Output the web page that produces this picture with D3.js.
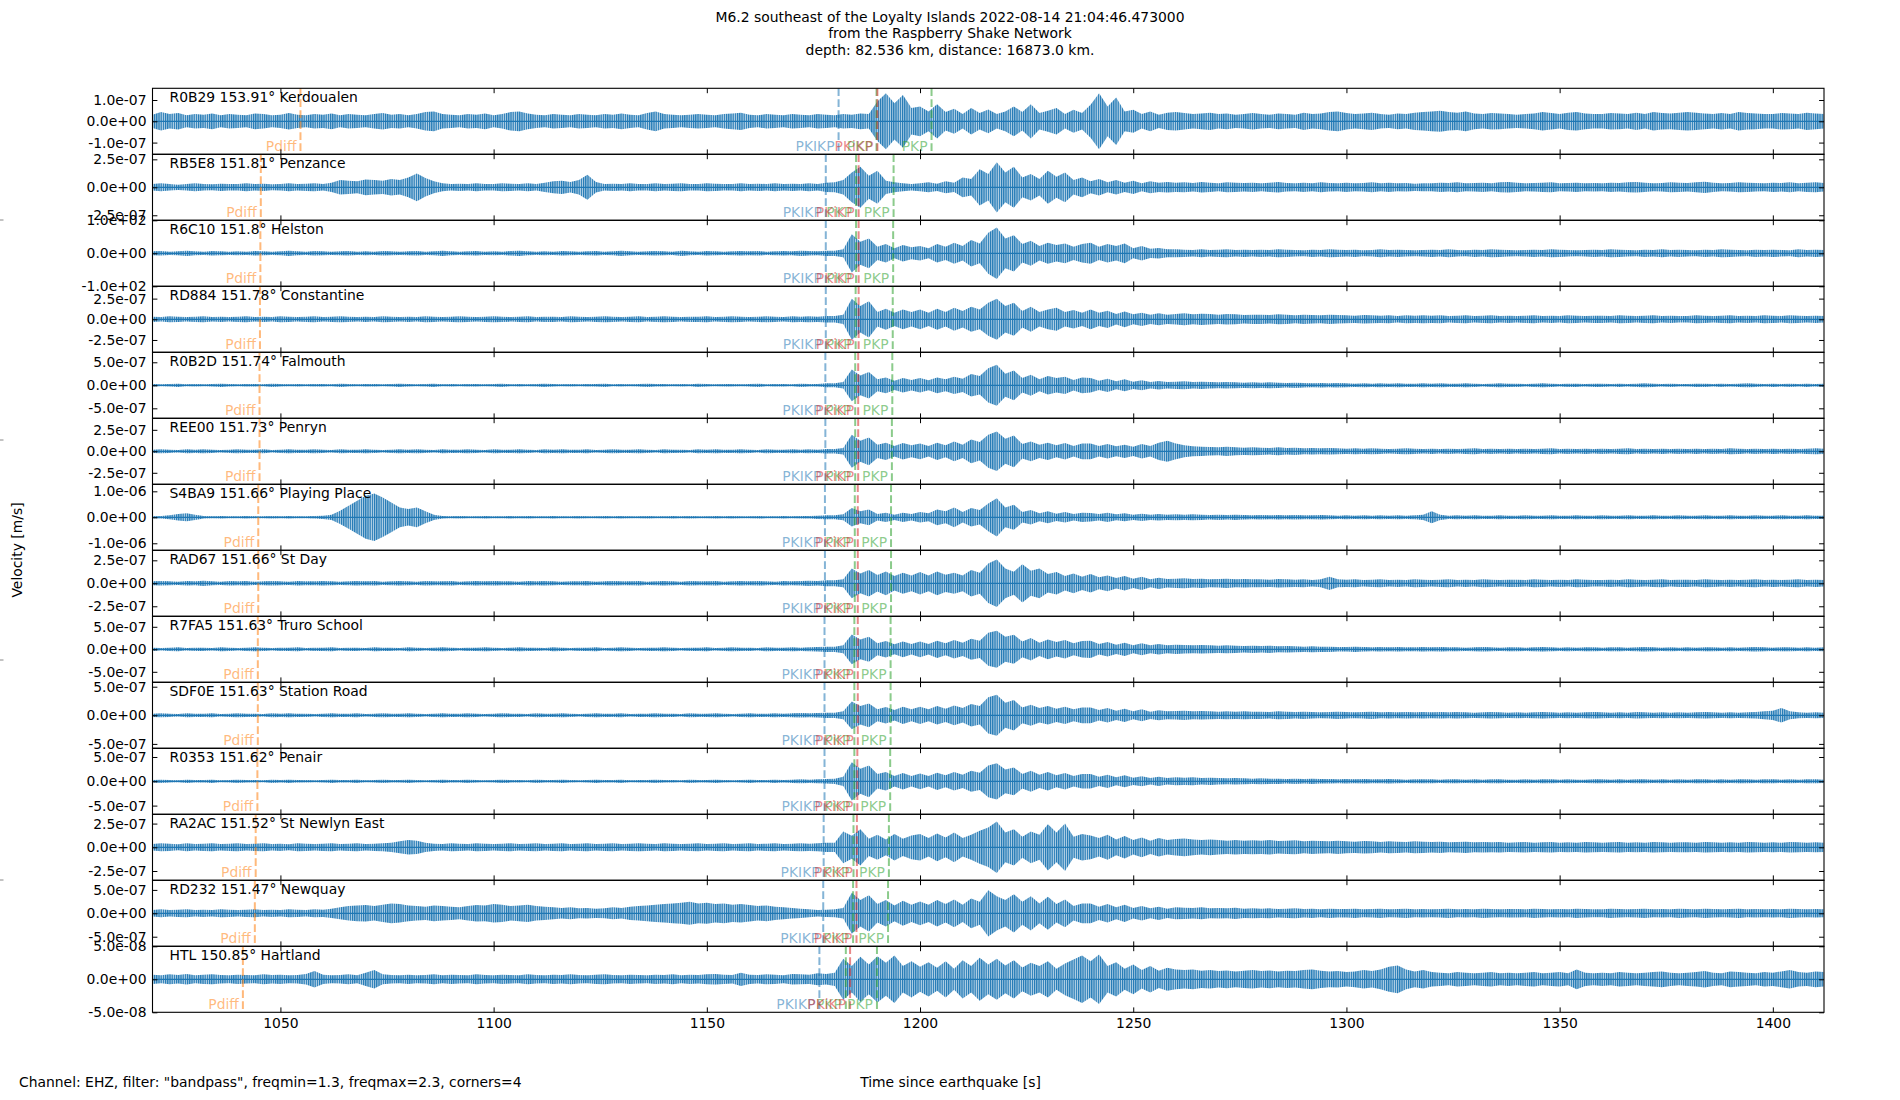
<!DOCTYPE html>
<html>
<head>
<meta charset="utf-8">
<title>Raspberry Shake section</title>
<script src="https://cdn.jsdelivr.net/npm/d3@7"></script>
<style>
body{margin:0;background:#fff;}
svg text{font-family:"DejaVu Sans",sans-serif;font-size:13.9px;fill:#000;}
</style>
</head>
<body>
<div id="chart"></div>
<script>
// station list, top to bottom
var stations  = ["R0B29","RB5E8","R6C10","RD884","R0B2D","REE00","S4BA9","RAD67","R7FA5","SDF0E","R0353","RA2AC","RD232","HTL"];
var places    = ["Kerdoualen","Penzance","Helston","Constantine","Falmouth","Penryn","Playing Place","St Day","Truro School","Station Road","Penair","St Newlyn East","Newquay","Hartland"];
var distances = ["153.91","151.81","151.8","151.78","151.74","151.73","151.66","151.66","151.63","151.63","151.62","151.52","151.47","150.85"];
// y limits (symmetric) and the +/- tick of each panel
var ylims  = [1.55e-7, 2.95e-7, 1.0e2, 3.99e-7, 7.17e-7, 3.84e-7, 1.27e-6, 3.59e-7, 7.33e-7, 5.77e-7, 6.79e-7, 3.48e-7, 7.05e-7, 5.0e-8];
var yticks = [1e-7, 2.5e-7, 1e2, 2.5e-7, 5e-7, 2.5e-7, 1e-6, 2.5e-7, 5e-7, 5e-7, 5e-7, 2.5e-7, 5e-7, 5e-8];
var xticks = [1050,1100,1150,1200,1250,1300,1350,1400];

// trace envelopes, percent of ylim, one value every 2 s from 1020 s
var t0 = 1020, dt = 2;
var env_R0B29 = [20,28,22,25,18,22,20,24,18,22, 20,18,24,22,18,20,25,20,18,22, 20,24,18,22,20,18,22,25,20,22, 18,22,28,30,22,20,18,22,20,24,
  18,22,28,30,24,20,18,22,20,18, 22,20,18,22,20,24,20,18,25,30, 22,20,18,20,22,20,18,22,24,26, 20,18,22,20,18,22,20,18,22,20,
  18,22,20,24,22,60,85,55,80,40, 45,30,52,28,38,22,40,25,36,22, 30,45,28,52,25,32,40,22,35,25, 50,85,45,72,30,35,22,30,20,26,
  28,25,22,24,26,22,24,20,22,25, 22,20,24,22,20,26,22,24,28,30, 25,22,24,26,22,20,24,22,26,28, 30,32,28,26,30,24,22,25,24,22,
  20,22,24,28,25,22,26,28,24,22, 22,25,24,22,26,22,28,25,24,26, 28,26,24,22,25,22,28,25,24,22, 22,25,24,22,26,24,22];
var env_RB5E8 = [10,12,10,8,10,12,10,9,11,10, 10,12,10,11,9,10,12,10,11,12, 10,14,22,20,18,24,22,20,25,22, 30,42,28,18,12,10,11,10,12,10,
  10,12,11,10,12,10,14,18,20,16, 22,38,16,10,11,10,12,10,10,12, 10,11,12,10,10,12,11,10,10,12, 10,11,10,12,10,11,10,12,10,14,
  15,22,45,62,35,50,20,15,12,10, 12,15,11,18,14,30,25,55,40,76, 45,62,30,40,25,50,32,45,22,30, 18,25,15,22,14,20,12,18,14,16,
  14,15,13,16,14,12,15,14,13,14, 12,14,16,13,12,14,12,15,13,12, 14,12,13,15,12,14,12,13,11,12, 12,14,13,15,12,13,14,12,15,16,
  14,12,13,14,15,12,13,14,12,13, 12,14,13,15,16,14,12,13,15,14, 13,15,17,14,12,13,15,14,13,12, 14,13,15,12,14,15,13];
var env_R6C10 = [6,7,5,6,8,6,5,7,6,5, 6,5,7,6,5,6,8,6,5,7, 6,5,6,7,5,6,5,7,6,5, 6,7,5,6,8,6,5,6,7,5,
  6,5,7,8,6,5,6,5,7,6, 5,6,7,5,6,8,6,5,6,7, 6,5,8,6,5,7,6,5,6,7, 6,7,5,6,7,6,8,7,6,8,
  8,12,58,35,45,20,28,15,25,18, 22,15,28,20,32,22,40,30,62,78, 45,55,28,38,22,32,25,30,20,28, 32,20,28,22,30,15,22,14,16,12,
  12,11,10,12,10,11,12,10,11,10, 11,10,12,11,10,9,11,10,12,11, 10,11,9,10,12,10,11,10,9,10, 11,10,12,10,9,11,10,12,11,10,
  9,10,11,10,12,11,10,9,10,11, 10,12,11,10,9,11,10,12,10,11, 10,9,11,10,12,11,10,9,11,10, 11,10,9,12,10,11,10];
var env_RD884 = [8,7,9,8,7,8,9,7,8,7, 8,9,7,8,7,9,8,7,8,9, 7,8,9,8,7,8,7,9,8,7, 8,7,9,8,7,8,9,8,7,8,
  9,8,7,8,9,7,8,8,7,9, 8,7,8,9,8,7,8,9,7,8, 9,8,7,8,8,9,7,8,9,8, 7,8,9,8,7,9,8,9,8,10,
  10,14,62,40,55,22,32,20,30,22, 30,20,32,22,35,25,38,30,50,62, 40,50,25,38,22,30,35,22,28,20, 30,20,26,16,24,15,20,14,18,14,
  16,18,15,17,16,14,16,15,13,14, 14,13,15,14,12,14,13,12,14,13, 12,11,13,12,11,12,10,12,11,12, 11,12,10,11,12,10,11,12,10,11,
  10,11,12,10,11,10,12,11,10,11, 11,10,12,11,10,11,12,10,11,10, 10,12,11,10,11,12,10,11,10,12, 11,10,12,11,10,11,10];
var env_R0B2D = [4,3,4,5,3,4,3,4,5,4, 3,4,4,3,5,4,3,4,3,4, 4,3,5,4,3,4,4,3,4,5, 4,3,4,5,3,4,3,4,4,3,
  4,5,3,4,3,4,5,4,3,4, 3,4,4,5,3,4,3,4,5,4, 4,3,4,3,5,4,3,4,4,3, 4,5,3,4,4,3,5,4,4,6,
  6,10,48,30,40,18,24,14,22,16, 22,15,24,18,26,20,34,28,52,62, 35,45,22,32,18,28,22,26,16,24, 22,14,20,12,18,11,15,10,13,10,
  11,12,10,11,10,9,10,9,8,9, 8,9,8,7,8,7,6,7,6,7, 6,5,6,5,6,5,6,5,5,6, 5,6,5,5,6,5,4,5,6,5,
  5,4,5,6,5,4,5,5,4,5, 5,4,5,4,5,6,5,4,5,4, 4,5,5,4,5,4,5,6,5,4, 5,4,5,4,5,4,5];
var env_REE00 = [5,6,5,4,6,5,6,5,4,5, 6,5,5,6,4,5,6,5,5,6, 5,4,6,5,5,6,5,4,5,6, 5,6,5,4,6,5,5,6,5,4,
  6,5,5,6,5,4,6,5,6,5, 5,6,4,5,6,5,5,6,5,4, 6,5,5,4,6,5,6,5,5,6, 5,4,6,5,5,6,5,6,5,7,
  7,10,50,32,42,20,26,16,25,18, 24,16,26,18,30,20,36,28,50,60, 38,48,22,30,20,26,18,25,16,24, 24,16,22,15,20,14,22,16,26,32,
  24,18,15,14,13,12,14,12,11,12, 11,10,12,10,11,9,10,9,10,9, 8,9,8,9,8,7,8,9,8,7, 8,7,8,7,8,9,7,8,7,8,
  7,8,7,8,9,7,8,7,8,7, 8,7,8,9,7,8,7,8,7,8, 7,8,7,8,7,9,8,7,8,7, 8,7,8,7,8,9,8];
var env_S4BA9 = [3,4,6,10,12,8,4,3,4,3, 3,4,3,3,4,3,4,3,3,4, 5,8,20,35,50,65,72,60,45,30, 25,30,18,8,4,3,4,3,3,4,
  3,3,4,3,4,3,3,4,3,3, 4,3,3,4,3,4,3,3,4,3, 3,4,3,4,3,3,4,3,4,3, 3,4,3,3,4,3,4,4,5,6,
  6,9,28,18,24,10,14,8,14,10, 16,12,24,18,30,16,28,22,42,58, 30,38,16,22,12,18,11,16,10,14, 13,10,14,9,12,8,11,8,10,8,
  9,8,9,8,7,8,7,8,7,6, 7,6,7,6,7,6,6,7,6,5, 6,5,6,5,6,5,6,5,6,8, 18,8,5,6,5,6,5,5,6,5,
  5,6,5,5,6,5,5,6,5,5, 6,5,5,6,5,5,6,5,5,6, 5,5,6,5,5,6,5,5,6,5, 5,6,5,5,6,5,5];
var env_RAD67 = [6,7,6,5,7,6,8,6,5,7, 6,7,5,6,7,6,5,7,6,6, 7,6,5,6,7,6,7,5,6,7, 6,5,7,6,6,7,5,6,7,6,
  7,6,6,5,7,6,7,6,5,6, 6,7,5,6,7,6,6,7,5,6, 7,6,5,7,6,6,7,5,6,7, 6,7,6,5,7,6,7,8,7,9,
  9,12,45,30,40,25,36,22,32,24, 34,24,36,26,32,24,40,32,60,72, 45,35,58,38,45,28,34,22,30,20, 28,18,24,16,22,14,20,12,17,13,
  14,15,13,14,12,13,14,12,13,12, 12,11,13,12,11,12,10,12,20,12, 11,12,10,11,12,10,11,10,12,11, 10,11,12,10,11,10,12,11,10,11,
  11,10,12,11,10,11,10,12,11,10, 10,11,10,12,11,10,11,12,10,11, 11,10,12,11,10,11,10,11,12,10, 11,10,11,12,10,11,10];
var env_R7FA5 = [5,4,5,6,4,5,5,4,6,5, 4,5,6,5,4,5,5,6,4,5, 5,6,4,5,5,4,6,5,5,4, 6,5,4,5,6,5,4,5,5,6,
  5,4,5,6,5,5,4,6,5,4, 5,5,6,4,5,6,5,4,5,5, 6,5,4,5,5,6,4,5,6,5, 5,4,6,5,5,6,5,6,7,8,
  8,12,45,30,38,18,25,15,24,16, 24,16,26,18,28,20,32,26,50,56, 38,44,24,34,20,30,22,28,18,25, 26,16,22,14,20,12,18,12,16,12,
  14,13,12,13,12,11,12,11,10,11, 10,11,9,10,9,8,9,8,8,7, 7,8,7,6,7,6,7,6,6,7, 6,7,6,6,5,6,7,6,5,6,
  6,5,6,7,6,5,6,5,6,6, 5,6,6,5,6,7,6,5,6,5, 6,5,6,6,5,6,5,6,7,6, 5,6,6,5,6,5,6];
var env_SDF0E = [5,6,5,4,6,5,5,6,4,5, 6,5,5,4,6,5,6,5,5,4, 5,6,5,5,6,4,5,6,5,5, 6,5,4,5,6,5,5,6,5,4,
  5,6,5,5,4,6,5,5,6,5, 4,5,6,5,5,6,4,5,5,6, 5,5,4,6,5,5,6,5,4,5, 6,5,5,6,5,6,7,6,7,8,
  8,12,42,28,36,18,25,16,26,18, 26,18,28,20,30,22,34,28,55,62, 38,46,24,32,22,28,20,26,18,24, 24,16,22,14,20,12,18,11,15,12,
  13,14,12,13,12,11,12,11,12,11, 11,10,12,11,10,11,10,9,10,11, 10,9,10,11,9,10,9,10,9,10, 9,10,9,10,9,8,9,10,9,8,
  9,8,9,10,9,8,9,8,9,10, 9,8,9,8,10,9,8,9,8,9, 8,9,10,9,8,9,8,9,10,12, 14,22,12,9,8,9,8];
var env_R0353 = [4,5,4,3,5,4,4,5,3,4, 5,4,4,3,5,4,5,4,4,3, 4,5,4,4,5,3,4,5,4,4, 5,4,3,4,5,4,4,5,4,3,
  4,5,4,4,3,5,4,4,5,4, 3,4,5,4,4,5,3,4,4,5, 4,4,3,5,4,4,5,4,3,4, 5,4,4,5,4,5,6,5,6,7,
  8,14,58,38,48,22,28,16,25,16, 24,16,26,18,28,20,32,26,48,55, 36,42,22,32,20,28,18,25,16,22, 22,14,20,12,18,11,15,10,14,10,
  12,11,12,10,11,10,9,10,9,8, 9,8,8,7,8,7,8,7,7,6, 7,6,7,6,6,7,6,5,6,6, 6,5,6,6,5,6,5,6,6,5,
  5,6,5,6,6,5,6,5,5,6, 6,5,6,5,6,6,5,6,5,6, 5,6,6,5,6,5,6,6,5,6, 6,5,6,5,6,6,5];
var env_RA2AC = [10,12,11,9,12,10,11,12,10,11, 12,10,11,12,10,11,9,12,11,10, 11,12,10,11,12,10,11,12,14,18, 22,20,14,11,10,12,11,10,12,11,
  10,11,12,10,11,12,10,11,12,10, 11,12,10,11,12,10,11,12,11,10, 12,11,10,11,12,10,11,12,10,11, 12,10,11,12,10,11,12,11,12,14,
  14,48,35,55,26,38,24,40,26,36, 40,28,42,30,45,28,38,50,60,78, 45,55,32,48,38,70,45,72,32,40, 36,28,38,24,34,22,30,20,28,22,
  25,27,24,22,24,22,20,22,20,21, 20,22,19,20,21,18,20,19,18,20, 18,17,19,18,16,18,17,16,18,17, 16,17,15,16,17,15,16,15,16,14,
  15,16,14,15,16,14,15,14,16,15, 14,15,16,14,15,14,16,15,14,15, 15,14,16,15,14,15,14,16,15,14, 15,14,16,15,14,15,14];
var env_RD232 = [10,12,10,11,12,10,11,10,12,11, 10,11,12,10,11,10,12,11,10,12, 11,14,18,22,24,25,22,26,30,28, 24,22,20,24,22,20,18,22,25,24,
  28,26,22,24,26,22,20,18,16,18, 15,16,14,15,18,16,20,22,24,26, 28,30,32,35,30,32,28,30,26,28, 25,22,24,20,18,16,14,12,10,11,
  12,16,62,40,55,28,40,24,38,26, 36,26,40,28,42,26,45,35,70,52, 40,58,35,52,30,50,28,42,22,30, 30,20,28,18,26,16,22,15,20,14,
  18,17,16,18,15,16,15,17,14,15, 14,15,13,14,15,13,14,12,14,13, 13,14,12,13,14,12,13,14,12,13, 12,13,14,12,13,12,14,13,12,13,
  13,12,14,13,12,13,12,14,13,12, 12,14,13,12,13,14,12,13,12,14, 13,12,14,13,12,13,14,12,13,12, 13,12,14,13,12,13,12];
var env_HTL = [14,12,15,13,16,12,14,15,13,12, 14,13,12,15,13,14,12,13,16,25, 14,12,13,15,12,20,28,15,13,12, 14,12,13,15,12,14,13,12,15,13,
  12,14,13,12,15,13,12,14,13,15, 13,12,14,15,13,12,14,13,12,14, 13,15,12,14,13,15,16,14,13,20, 14,13,15,14,12,16,15,14,18,16,
  20,62,40,68,45,70,50,72,40,55, 38,52,35,55,32,58,40,65,45,62, 42,58,36,50,40,55,32,48,60,72, 55,75,40,52,32,45,28,40,26,35,
  30,28,30,26,28,25,27,24,26,28, 25,27,24,26,25,28,30,26,24,25, 22,24,28,25,30,38,42,30,24,28, 22,20,18,22,20,18,20,22,18,20,
  18,20,22,18,20,22,18,30,20,18, 20,18,22,20,18,20,22,24,20,18, 20,22,25,20,18,24,22,20,18,22, 20,24,28,22,20,24,22];
var traces = [env_R0B29, env_RB5E8, env_R6C10, env_RD884, env_R0B2D, env_REE00, env_S4BA9,
              env_RAD67, env_R7FA5, env_SDF0E, env_R0353, env_RA2AC, env_RD232, env_HTL];

// predicted arrivals [s], same order as phaseNames
var phaseNames  = ["Pdiff","PKIKP","PKP","PKiKP","PKP"];
var phaseColors = {"Pdiff":"#ff7f0e","PKIKP":"#1f77b4","PKiKP":"#d62728","PKP":"#2ca02c"};
var arrivals = [
  [1054.7, 1180.9, 1189.8, 1190.0, 1202.7],
  [1045.4, 1177.9, 1185.0, 1185.6, 1193.8],
  [1045.3, 1177.9, 1185.0, 1185.6, 1193.7],
  [1045.2, 1177.9, 1184.9, 1185.6, 1193.6],
  [1045.1, 1177.8, 1184.8, 1185.5, 1193.5],
  [1045.1, 1177.8, 1184.8, 1185.5, 1193.4],
  [1044.8, 1177.7, 1184.7, 1185.4, 1193.2],
  [1044.8, 1177.7, 1184.7, 1185.4, 1193.2],
  [1044.7, 1177.6, 1184.6, 1185.4, 1193.1],
  [1044.7, 1177.6, 1184.6, 1185.4, 1193.1],
  [1044.6, 1177.6, 1184.6, 1185.3, 1193.0],
  [1044.2, 1177.4, 1184.4, 1185.2, 1192.7],
  [1044.0, 1177.3, 1184.3, 1185.1, 1192.5],
  [1041.2, 1176.4, 1182.6, 1183.6, 1189.9]
];

var titleLines = ["M6.2 southeast of the Loyalty Islands 2022-08-14 21:04:46.473000",
                  "from the Raspberry Shake Network",
                  "depth: 82.536 km, distance: 16873.0 km."];

// layout (padTop, not "top": window.top is read-only)
var width = 1900, height = 1100;
var padLeft = 152.5, padRight = 1824, padTop = 88.3, ph = 66;
var tick = 4.9;

var x = d3.scaleLinear().domain([1020, 1412]).range([padLeft, padRight]);

function fmt(v){
  if (v === 0) return "0.0e+00";
  return v.toExponential(1).replace(/e([+-])(\d)$/, "e$10$2");
}

var svg = d3.select("#chart").append("svg")
  .attr("width", width)
  .attr("height", height);

var defs = svg.append("defs");
// dense vertical stripes stand in for the oscillation inside the envelope
var pat = defs.append("pattern")
  .attr("id", "wiggle")
  .attr("patternUnits", "userSpaceOnUse")
  .attr("width", 2.2).attr("height", 20);
pat.append("rect").attr("width", 2.2).attr("height", 20).attr("fill", "#1f77b4").attr("fill-opacity", 0.3);
pat.append("rect").attr("width", 1.2).attr("height", 20).attr("fill", "#1f77b4");

stations.forEach(function(code, i){
  var y0 = padTop + i*ph;
  var y = d3.scaleLinear().domain([-ylims[i], ylims[i]]).range([y0 + ph, y0]);
  var g = svg.append("g").attr("class", "panel");

  defs.append("clipPath").attr("id", "clip" + i)
    .append("rect").attr("x", padLeft).attr("y", y0).attr("width", padRight - padLeft).attr("height", ph);

  var amp = function(d){ return d/100*ylims[i]; };
  var area = d3.area()
    .x(function(d, j){ return x(t0 + j*dt); })
    .y0(function(d){ return y(-amp(d)); })
    .y1(function(d){ return y(amp(d)); });
  var line = d3.line()
    .x(function(d, j){ return x(t0 + j*dt); })
    .y(function(){ return y(0); });

  var tr = g.append("g").attr("clip-path", "url(#clip" + i + ")");
  tr.append("path").attr("d", area(traces[i])).attr("fill", "url(#wiggle)");
  tr.append("path").attr("d", line(traces[i])).attr("stroke", "#1f77b4").attr("stroke-width", 1.2).attr("fill", "none");

  // phase markers
  arrivals[i].forEach(function(t, k){
    g.append("line")
      .attr("x1", x(t)).attr("x2", x(t))
      .attr("y1", y0).attr("y2", y0 + ph)
      .attr("stroke", phaseColors[phaseNames[k]])
      .attr("stroke-opacity", 0.55)
      .attr("stroke-width", 2)
      .attr("stroke-dasharray", "7.7,3.3");
  });
  arrivals[i].forEach(function(t, k){
    g.append("text")
      .attr("x", x(t) - 4)
      .attr("y", y0 + ph - 3)
      .attr("text-anchor", "end")
      .style("fill", phaseColors[phaseNames[k]])
      .style("fill-opacity", 0.55)
      .text(phaseNames[k]);
  });

  // axes, ticks pointing inward
  var ya = g.append("g").attr("transform", "translate(" + padLeft + ",0)")
    .call(d3.axisLeft(y).tickValues([yticks[i], 0, -yticks[i]]).tickSize(-tick).tickSizeOuter(0).tickPadding(6).tickFormat(fmt));
  ya.select(".domain").remove();
  var yr = g.append("g").attr("transform", "translate(" + padRight + ",0)")
    .call(d3.axisRight(y).tickValues([yticks[i], 0, -yticks[i]]).tickSize(-tick).tickSizeOuter(0).tickFormat(""));
  yr.select(".domain").remove();
  var xt = g.append("g").attr("transform", "translate(0," + y0 + ")")
    .call(d3.axisTop(x).tickValues(xticks).tickSize(-tick).tickSizeOuter(0).tickFormat(""));
  xt.select(".domain").remove();
  var xb = g.append("g").attr("transform", "translate(0," + (y0 + ph) + ")")
    .call(d3.axisBottom(x).tickValues(xticks).tickSize(-tick).tickSizeOuter(0).tickPadding(6)
      .tickFormat(i === stations.length - 1 ? d3.format("d") : ""));
  xb.select(".domain").remove();

  g.append("rect")
    .attr("x", padLeft).attr("y", y0)
    .attr("width", padRight - padLeft).attr("height", ph)
    .attr("fill", "none").attr("stroke", "#000").attr("stroke-width", 1.1);

  g.append("text")
    .attr("x", padLeft + 17)
    .attr("y", y0 + 13.5)
    .text(code + " " + distances[i] + "\u00b0 " + places[i]);
});

// title
svg.selectAll("text.title")
  .data(titleLines)
  .enter()
  .append("text")
  .attr("class", "title")
  .attr("x", 950)
  .attr("y", function(d, i){ return 21.5 + i*16.7; })
  .attr("text-anchor", "middle")
  .text(function(d){ return d; });

// labels
svg.append("text")
  .attr("x", 950.5).attr("y", 1087)
  .attr("text-anchor", "middle")
  .text("Time since earthquake [s]");

svg.append("text")
  .attr("x", 19).attr("y", 1087)
  .text("Channel: EHZ, filter: \"bandpass\", freqmin=1.3, freqmax=2.3, corners=4");

svg.append("text")
  .attr("transform", "translate(22,550) rotate(-90)")
  .attr("text-anchor", "middle")
  .text("Velocity [m/s]");

// stray ticks of the hidden full-figure axis
svg.selectAll("line.edge")
  .data([220, 440, 660, 880])
  .enter()
  .append("line")
  .attr("class", "edge")
  .attr("x1", 0).attr("x2", 3.5)
  .attr("y1", function(d){ return d; })
  .attr("y2", function(d){ return d; })
  .attr("stroke", "#888");
</script>
</body>
</html>
